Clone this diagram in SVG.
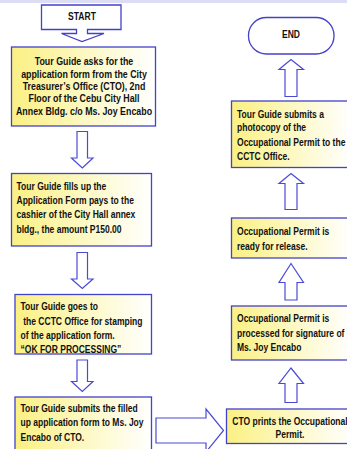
<svg xmlns="http://www.w3.org/2000/svg" width="347" height="449" viewBox="0 0 347 449">
<defs>
<linearGradient id="yg" x1="0" y1="0" x2="1" y2="0">
<stop offset="0" stop-color="#fbf083"/>
<stop offset="0.55" stop-color="#fdf9c8"/>
<stop offset="1" stop-color="#ffffff"/>
</linearGradient>
<style>
.box{fill:url(#yg);stroke:#4343c8;stroke-width:1.3}
.term{fill:#ffffff;stroke:#4343c8;stroke-width:1.3}
.arr{fill:#ffffff;stroke:#4a4ad6;stroke-width:1.2;stroke-linejoin:miter}
text{font-family:"Liberation Sans",Arial,sans-serif;font-weight:bold;font-size:10.4px;fill:#111111}
.c{text-anchor:middle}
</style>
</defs>
<rect x="0" y="0" width="347" height="449" fill="#ffffff"/>
<rect x="0" y="0" width="347" height="3" fill="#dcdcf4"/>

<g id="start">
<path class="term" d="M41.5,5 H121 V29.5 H87.5 V33.5 H104 L82,41.5 L61.5,33.5 H76.5 V29.5 H41.5 Z"/>
<text class="c" transform="translate(82,0) scale(0.82,1)" x="0" y="20.5" font-size="10.8">START</text>
</g>

<g id="step1">
<rect class="box" x="11.5" y="47" width="144" height="79"/>
<g transform="translate(84,0) scale(0.82,1)">
<text class="c" x="0" y="65.5" style="font-size:10.8px">Tour Guide asks for the</text>
<text class="c" x="0" y="77.8" style="font-size:10.8px">application form from the City</text>
<text class="c" x="0" y="90.1" style="font-size:10.8px">Treasurer’s Office (CTO), 2nd</text>
<text class="c" x="0" y="102.4" style="font-size:10.8px">Floor of the Cebu City Hall</text>
<text class="c" x="0" y="114.7" style="font-size:10.8px">Annex Bldg. c/o Ms. Joy Encabo</text>
</g>
</g>

<g id="step2">
<rect class="box" x="11.5" y="173.5" width="140" height="72.5"/>
<g transform="translate(16.5,0) scale(0.82,1)">
<text x="0" y="190">Tour Guide fills up the</text>
<text x="0" y="204.2">Application Form pays to the</text>
<text x="0" y="218.4">cashier of the City Hall annex</text>
<text x="0" y="232.6">bldg., the amount P150.00</text>
</g>
</g>

<g id="step3">
<rect class="box" x="15" y="294.5" width="136.5" height="59.5"/>
<g transform="translate(20.5,0) scale(0.82,1)">
<text x="0" y="310.5">Tour Guide goes to</text>
<text x="3.3" y="324.8">the CCTC Office for stamping</text>
<text x="0" y="339">of the application form.</text>
<text x="0" y="353.2">“OK FOR PROCESSING”</text>
</g>
</g>

<g id="step4">
<rect class="box" x="15" y="397" width="136.5" height="60"/>
<g transform="translate(20.5,0) scale(0.82,1)">
<text x="0" y="412">Tour Guide submits the filled</text>
<text x="0" y="426.3">up application form to Ms. Joy</text>
<text x="0" y="440.6">Encabo of CTO.</text>
</g>
</g>

<g id="step5">
<rect class="box" x="226.5" y="409" width="127" height="34.5"/>
<g transform="translate(290,0) scale(0.82,1)">
<text class="c" x="0" y="424.7">CTO prints the Occupational</text>
<text class="c" x="0" y="438">Permit.</text>
</g>
</g>

<g id="step6">
<rect class="box" x="231.5" y="306" width="120" height="54"/>
<g transform="translate(237,0) scale(0.82,1)">
<text x="0" y="322">Occupational Permit is</text>
<text x="0" y="336.8">processed for signature of</text>
<text x="0" y="351.5">Ms. Joy Encabo</text>
</g>
</g>

<g id="step7">
<rect class="box" x="231.5" y="218" width="120" height="40"/>
<g transform="translate(237,0) scale(0.82,1)">
<text x="0" y="235.5">Occupational Permit is</text>
<text x="0" y="250">ready for release.</text>
</g>
</g>

<g id="step8">
<rect class="box" x="231.5" y="101" width="120" height="66.5"/>
<g transform="translate(237,0) scale(0.82,1)">
<text x="0" y="117.7">Tour Guide submits a</text>
<text x="0" y="131.5">photocopy of the</text>
<text x="0" y="146.3">Occupational Permit to the</text>
<text x="0" y="160">CCTC Office.</text>
</g>
</g>

<g id="end">
<rect class="term" x="248.5" y="17.5" width="85.5" height="36.5" rx="18" ry="18"/>
<text class="c" transform="translate(291,0) scale(0.82,1)" x="0" y="38" font-size="10.8">END</text>
</g>

<g id="connectors">
<path class="arr" d="M77,131.5 H87.5 V158 H93 L82.3,168 L71.5,158 H77 Z"/>
<path class="arr" d="M77,252.5 H87.5 V279 H93 L82.3,288.5 L71.5,279 H77 Z"/>
<path class="arr" d="M77,360 H87.5 V381.5 H93 L82.3,391.5 L71.5,381.5 H77 Z"/>
<path class="arr" d="M156,418 H206 V409 L223.5,430.5 L206,452 V443 H156 Z"/>
<path class="arr" d="M285,402.5 V383.5 H279 L291,368 L303.5,383.5 H297 V402.5 Z"/>
<path class="arr" d="M285,300 V282.5 H279 L291,263.5 L303.5,282.5 H297 V300 Z"/>
<path class="arr" d="M285,209.5 V183.5 H279 L291,173.5 L303.5,183.5 H297 V209.5 Z"/>
<path class="arr" d="M285,96.5 V69.5 H279 L291,59.5 L303.5,69.5 H297 V96.5 Z"/>
</g>
</svg>
